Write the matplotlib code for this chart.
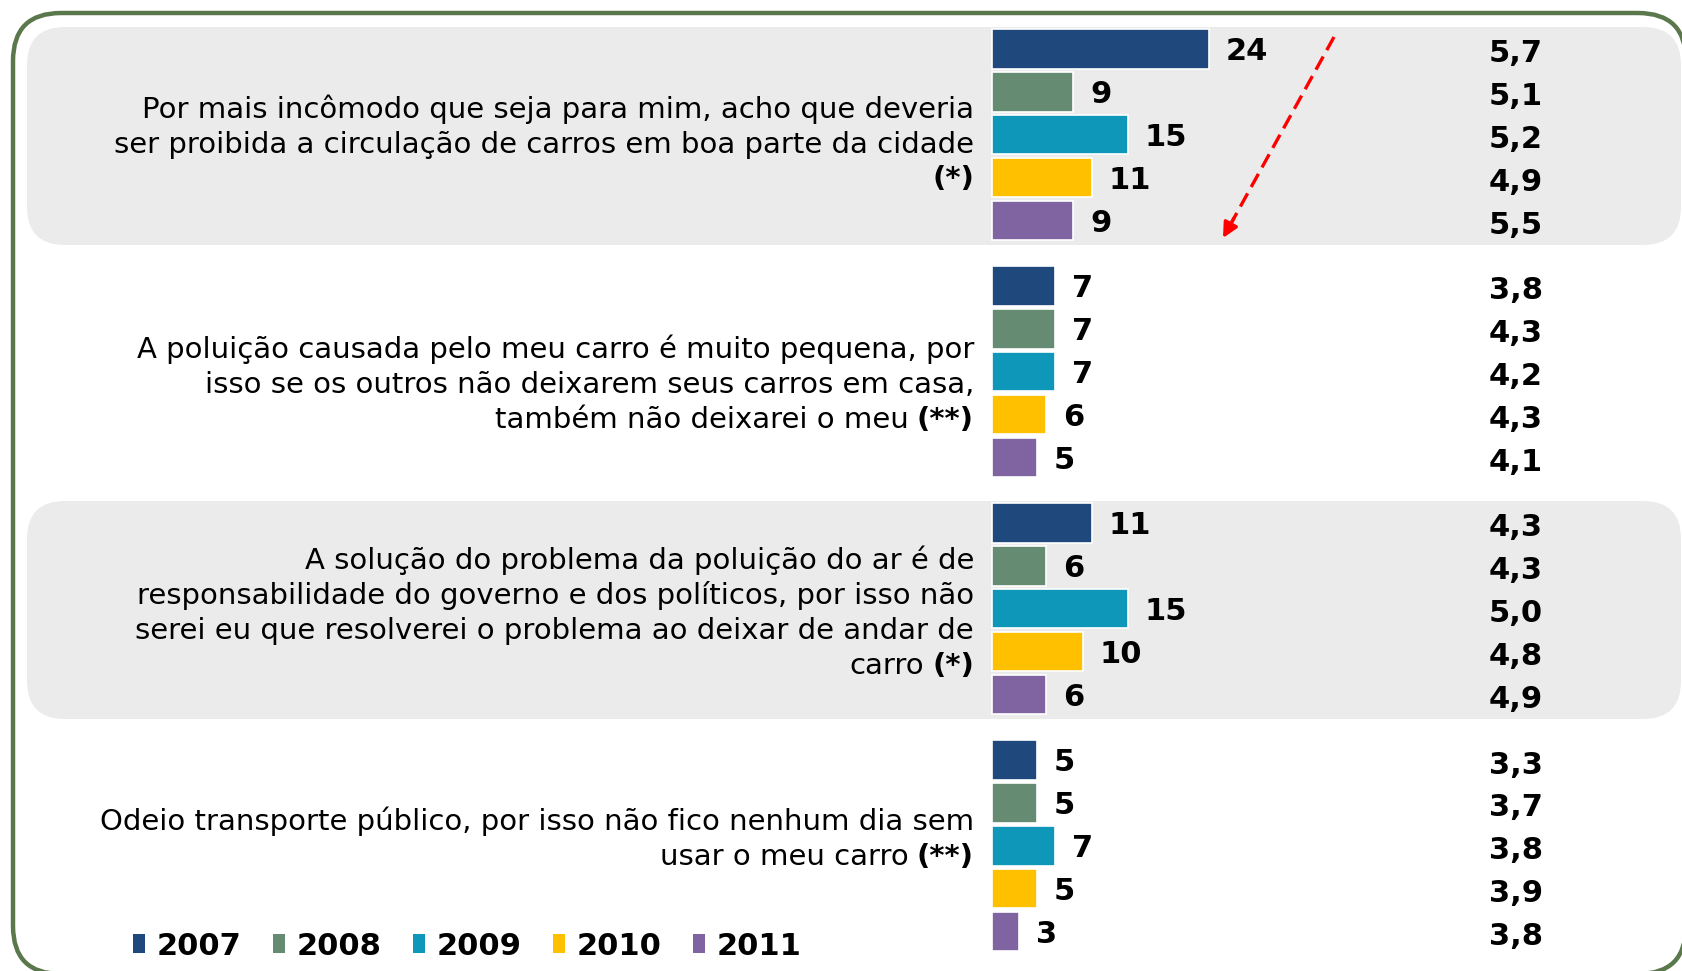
import matplotlib
matplotlib.use("Agg")
import matplotlib.pyplot as plt
from matplotlib.patches import FancyBboxPatch, Patch

W, H, DPI = 1682, 971, 100

years = ["2007", "2008", "2009", "2010", "2011"]
year_colors = ["#1F497D", "#658B73", "#0E97B8", "#FFC000", "#8064A2"]

# each statement: plain lines, then the bold footnote marker that closes it
statement_lines = [
    ["Por mais incômodo que seja para mim, acho que deveria",
     "ser proibida a circulação de carros em boa parte da cidade",
     ""],
    ["A poluição causada pelo meu carro é muito pequena, por",
     "isso se os outros não deixarem seus carros em casa,",
     "também não deixarei o meu"],
    ["A solução do problema da poluição do ar é de",
     "responsabilidade do governo e dos políticos, por isso não",
     "serei eu que resolverei o problema ao deixar de andar de",
     "carro"],
    ["Odeio transporte público, por isso não fico nenhum dia sem",
     "usar o meu carro"],
]
statement_marks = ["(*)", "(**)", "(*)", "(**)"]

# % agreeing, per statement, per year
pct_2007 = [24, 7, 11, 5]
pct_2008 = [9, 7, 6, 5]
pct_2009 = [15, 7, 15, 7]
pct_2010 = [11, 6, 10, 5]
pct_2011 = [9, 5, 6, 3]

# mean score, per statement, per year
mean_2007 = [5.7, 3.8, 4.3, 3.3]
mean_2008 = [5.1, 4.3, 4.3, 3.7]
mean_2009 = [5.2, 4.2, 5.0, 3.8]
mean_2010 = [4.9, 4.3, 4.8, 3.9]
mean_2011 = [5.5, 4.1, 4.9, 3.8]

pct = [pct_2007, pct_2008, pct_2009, pct_2010, pct_2011]
means = [mean_2007, mean_2008, mean_2009, mean_2010, mean_2011]

# layout (pixels)
BAR_X0 = 992          # where the bars start
PX_PER_UNIT = 9.05
SLOT = 42.9           # vertical pitch of a bar
FIRST_Y = 48.8        # centre of the very first bar
GROUP_SLOTS = 5.525   # distance between statements, in bar slots
TEXT_RIGHT = 974
LINE_H = 34.9
TEXT_SHIFT = [9, 12, 4, -7]   # nudge of each text block against its bars
MEAN_X = 1516
TEXT_SIZE = 21
NUM_SIZE = 22

plt.rcParams["font.family"] = "DejaVu Sans"

fig = plt.figure(figsize=(W / DPI, H / DPI), dpi=DPI)

# background layer in pixel coordinates
bg = fig.add_axes([0, 0, 1, 1])
bg.set_xlim(0, W)
bg.set_ylim(H, 0)
bg.axis("off")

for top, bottom in [(27, 245), (501, 719)]:
    bg.add_patch(FancyBboxPatch((27, top), 1654, bottom - top,
                                boxstyle="round,pad=0,rounding_size=38",
                                fc="#EBEBEB", ec="none", zorder=1))
# frame runs off the right and bottom edges; a (barely) filled patch is not
# path-clipped by Agg, which would otherwise mangle the rounded corners
bg.add_patch(FancyBboxPatch((13, 13), 1673, 961,
                            boxstyle="round,pad=0,rounding_size=48",
                            fc=(1, 1, 1, 0.002), ec="#5B774C", lw=3.2,
                            zorder=0.5, clip_on=False))

# bar layer in data coordinates
ax = fig.add_axes([0, 0, 1, 1])
ax.patch.set_alpha(0)
ax.set_xlim(-BAR_X0 / PX_PER_UNIT, (W - BAR_X0) / PX_PER_UNIT)
ax.set_ylim((H - FIRST_Y) / SLOT, -FIRST_Y / SLOT)
ax.axis("off")

n_groups = len(statement_lines)
for k, (year, color) in enumerate(zip(years, year_colors)):
    ys = [g * GROUP_SLOTS + k for g in range(n_groups)]
    ax.barh(ys, pct[k], height=0.925, left=0, color=color,
            edgecolor="white", linewidth=1.2, zorder=3, label=year)
    for y, v, m in zip(ys, pct[k], means[k]):
        ax.annotate(str(v), (v, y), xytext=(12, -2), textcoords="offset points",
                    ha="left", va="center", fontsize=NUM_SIZE,
                    fontweight="bold", zorder=4)
        ax.annotate(f"{m:.1f}".replace(".", ","), (0, y + 0.12),
                    xycoords=("figure fraction", "data"),
                    xytext=(MEAN_X * 72 / DPI, 0), textcoords="offset points",
                    ha="center", va="center", fontsize=NUM_SIZE,
                    fontweight="bold", zorder=4)

# statement texts, right aligned against the bars, bold footnote marker
renderer = fig.canvas.get_renderer()
for g, (lines, mark) in enumerate(zip(statement_lines, statement_marks)):
    centre = FIRST_Y + (g * GROUP_SLOTS + 2) * SLOT + TEXT_SHIFT[g]
    n = len(lines)
    for i, line in enumerate(lines):
        base = centre + (i - (n - 1) / 2) * LINE_H + 9
        if i < n - 1:
            bg.text(TEXT_RIGHT, base, line, ha="right", va="baseline",
                    fontsize=TEXT_SIZE, zorder=5)
            continue
        t = bg.text(TEXT_RIGHT, base, mark, ha="right", va="baseline",
                    fontsize=TEXT_SIZE, fontweight="bold", zorder=5)
        if line:
            w = t.get_window_extent(renderer).width
            bg.text(TEXT_RIGHT - w - 8, base, line, ha="right", va="baseline",
                    fontsize=TEXT_SIZE, zorder=5)

# dashed red arrow through the top block
x0, y0 = (1334 - BAR_X0) / PX_PER_UNIT, (37 - FIRST_Y) / SLOT
x1, y1 = (1223 - BAR_X0) / PX_PER_UNIT, (238 - FIRST_Y) / SLOT
ax.plot([x0, x1 + (x0 - x1) * 0.08], [y0, y1 + (y0 - y1) * 0.08],
        color="#FF0000", lw=2.4, ls=(0, (4.5, 2.2)), zorder=6)
ax.annotate("", xy=(x1, y1), xytext=(x1 + (x0 - x1) * 0.1, y1 + (y0 - y1) * 0.1),
            arrowprops=dict(arrowstyle="-|>,head_length=0.9,head_width=0.45",
                            color="#FF0000", lw=2.4, shrinkA=0, shrinkB=0),
            zorder=6)

handles = [Patch(facecolor=c, edgecolor="none") for c in year_colors]
fig.legend(handles, years, loc="center left", bbox_to_anchor=(133 / W, 1 - 946 / H),
           ncol=5, frameon=False, prop=dict(size=NUM_SIZE, weight="bold"),
           handlelength=0.4, handleheight=0.6, handletextpad=0.38,
           columnspacing=1.02, borderaxespad=0, borderpad=0)

fig.savefig("out.png", dpi=DPI)
